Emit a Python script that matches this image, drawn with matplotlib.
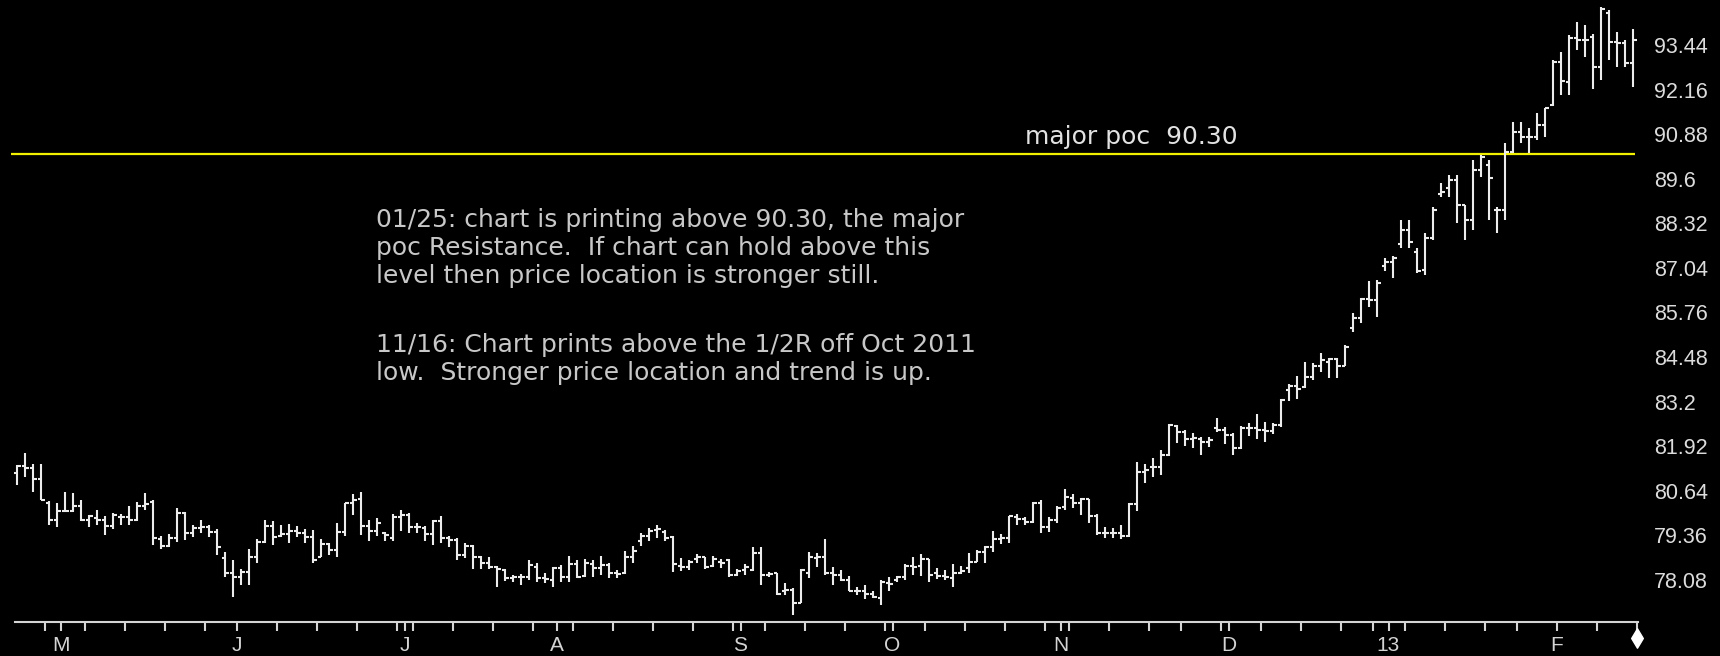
import numpy as np
import matplotlib
matplotlib.use("Agg")
import matplotlib.pyplot as plt
from matplotlib.collections import LineCollection
from matplotlib.path import Path
from matplotlib.transforms import blended_transform_factory, offset_copy

# Daily sessions, oldest first
opens = [81.16, 81.34, 81.29, 80.97, 80.30, 79.80, 80.07, 80.07, 80.21, 79.80,
         79.85, 79.80, 79.63, 79.88, 79.88, 79.80, 80.21, 80.33, 79.25, 79.06,
         79.28, 79.99, 79.44, 79.56, 79.59, 79.47, 78.70, 78.29, 78.16, 78.32,
         78.75, 79.18, 79.63, 79.34, 79.40, 79.50, 79.42, 79.31, 78.75, 79.11,
         78.94, 79.47, 80.28, 80.40, 79.63, 79.50, 79.42, 79.28, 79.88, 79.95,
         79.61, 79.57, 79.40, 79.76, 79.28, 79.23, 78.80, 79.06, 78.73, 78.58,
         78.45, 78.37, 78.13, 78.18, 78.16, 78.45, 78.13, 78.08, 78.42, 78.18,
         78.54, 78.20, 78.54, 78.42, 78.51, 78.27, 78.27, 78.73, 79.21, 79.33,
         79.52, 79.47, 79.31, 78.48, 78.46, 78.67, 78.73, 78.48, 78.61, 78.64,
         78.22, 78.37, 78.37, 78.85, 78.22, 78.27, 77.75, 77.79, 77.43, 78.29,
         78.70, 78.75, 78.29, 78.22, 78.08, 77.77, 77.75, 77.68, 77.55, 77.99,
         78.08, 78.18, 78.48, 78.48, 78.67, 78.29, 78.20, 78.13, 78.29, 78.42,
         78.61, 78.87, 79.02, 79.25, 79.28, 79.90, 79.82, 79.75, 80.28, 79.59,
         79.80, 80.18, 80.42, 80.28, 80.40, 79.92, 79.42, 79.44, 79.44, 79.34,
         80.26, 81.19, 81.31, 81.33, 81.67, 82.50, 82.34, 82.12, 82.12, 82.05,
         82.43, 82.40, 82.24, 81.86, 82.43, 82.43, 82.39, 82.37, 82.53, 83.53,
         83.65, 83.63, 83.90, 84.22, 84.35, 84.42, 84.21, 85.31, 85.59, 86.14,
         86.12, 87.10, 87.22, 87.74, 88.13, 87.50, 86.98, 87.89, 89.15, 89.33,
         89.56, 88.85, 88.41, 89.85, 90.00, 88.70, 88.70, 90.38, 90.95, 90.81,
         90.81, 91.14, 91.72, 92.96, 92.39, 93.63, 93.58, 93.68, 92.82, 94.35,
         93.53, 93.49, 92.91]
highs = [81.38, 81.72, 81.41, 81.41, 80.36, 80.28, 80.62, 80.57, 80.38, 79.95,
         80.09, 79.92, 79.99, 79.98, 80.21, 80.33, 80.57, 80.38, 79.34, 79.40,
         80.16, 80.04, 79.66, 79.80, 79.66, 79.54, 78.89, 78.66, 78.39, 78.96,
         79.25, 79.80, 79.78, 79.66, 79.68, 79.63, 79.54, 79.52, 79.25, 79.13,
         79.71, 80.30, 80.55, 80.62, 79.80, 79.85, 79.47, 79.98, 80.09, 80.00,
         79.73, 79.63, 79.80, 79.92, 79.33, 79.28, 79.15, 79.09, 78.77, 78.73,
         78.48, 78.39, 78.23, 78.25, 78.66, 78.58, 78.27, 78.46, 78.51, 78.77,
         78.66, 78.68, 78.64, 78.77, 78.58, 78.37, 78.90, 79.06, 79.42, 79.57,
         79.66, 79.52, 79.34, 78.70, 78.66, 78.83, 78.75, 78.77, 78.67, 78.67,
         78.39, 78.54, 79.02, 79.02, 78.32, 78.29, 77.99, 77.84, 78.39, 78.89,
         78.85, 79.25, 78.44, 78.37, 78.20, 77.89, 77.94, 77.75, 78.08, 78.16,
         78.20, 78.54, 78.73, 78.83, 78.67, 78.42, 78.37, 78.54, 78.48, 78.85,
         78.94, 79.06, 79.50, 79.40, 79.92, 79.97, 79.88, 80.33, 80.38, 79.90,
         80.20, 80.68, 80.55, 80.42, 80.40, 79.97, 79.59, 79.56, 79.66, 80.28,
         81.48, 81.41, 81.57, 81.81, 82.56, 82.53, 82.39, 82.31, 82.19, 82.19,
         82.72, 82.46, 82.29, 82.50, 82.60, 82.86, 82.62, 82.58, 83.29, 83.71,
         83.94, 84.35, 84.30, 84.60, 84.45, 84.45, 84.83, 85.74, 86.17, 86.65,
         86.68, 87.33, 87.37, 88.41, 88.41, 87.60, 88.03, 88.80, 89.47, 89.70,
         89.70, 88.85, 90.14, 90.28, 90.14, 88.80, 90.62, 91.24, 91.24, 91.05,
         91.48, 91.62, 93.01, 93.25, 93.73, 94.11, 94.01, 93.77, 94.54, 94.44,
         93.82, 93.58, 93.89]
lows = [80.81, 81.05, 80.62, 80.38, 79.66, 79.59, 80.04, 80.04, 79.77, 79.59,
        79.66, 79.37, 79.54, 79.66, 79.66, 79.78, 80.09, 79.09, 78.96, 79.02,
        79.18, 79.23, 79.31, 79.42, 79.32, 78.80, 78.18, 77.60, 77.94, 77.94,
        78.58, 79.13, 79.09, 79.32, 79.15, 79.32, 79.15, 78.58, 78.75, 78.80,
        78.75, 79.33, 79.95, 79.37, 79.21, 79.33, 79.21, 79.21, 79.50, 79.42,
        79.42, 79.21, 79.09, 79.15, 79.04, 78.64, 78.70, 78.39, 78.39, 78.39,
        77.87, 78.06, 78.01, 77.94, 78.08, 78.03, 77.99, 77.89, 78.03, 78.01,
        78.13, 78.16, 78.18, 78.23, 78.13, 78.13, 78.25, 78.58, 79.06, 79.21,
        79.28, 79.21, 78.32, 78.35, 78.37, 78.56, 78.39, 78.44, 78.42, 78.18,
        78.20, 78.22, 78.35, 77.94, 78.16, 77.65, 77.65, 77.08, 77.41, 78.13,
        78.46, 78.22, 77.94, 78.06, 77.75, 77.65, 77.53, 77.55, 77.36, 77.77,
        78.03, 78.08, 78.22, 78.20, 78.03, 78.10, 78.08, 77.89, 78.25, 78.27,
        78.61, 78.58, 78.89, 79.10, 79.15, 79.66, 79.66, 79.73, 79.44, 79.47,
        79.71, 80.09, 80.14, 79.95, 79.73, 79.37, 79.28, 79.30, 79.25, 79.32,
        80.07, 80.87, 81.05, 81.09, 81.64, 82.02, 81.93, 81.86, 81.67, 81.91,
        82.34, 81.98, 81.67, 81.83, 82.20, 82.12, 82.05, 82.27, 82.48, 83.23,
        83.27, 83.58, 83.82, 84.06, 83.87, 83.87, 84.21, 85.21, 85.47, 85.93,
        85.64, 86.96, 86.74, 87.60, 87.60, 86.88, 86.83, 87.84, 89.08, 89.08,
        88.32, 87.84, 88.13, 89.66, 88.41, 88.05, 88.41, 90.33, 90.62, 90.33,
        90.71, 90.81, 91.70, 92.00, 92.00, 93.30, 93.10, 92.19, 92.43, 93.01,
        92.82, 92.82, 92.24]
closes = [81.35, 81.29, 80.97, 80.38, 79.80, 80.07, 80.07, 80.21, 79.80, 79.92,
          79.80, 79.63, 79.95, 79.90, 79.80, 80.21, 80.26, 79.28, 79.06, 79.28,
          79.99, 79.44, 79.56, 79.59, 79.47, 79.04, 78.29, 78.16, 78.32, 78.75,
          79.18, 79.63, 79.32, 79.40, 79.50, 79.42, 79.32, 78.64, 79.11, 78.94,
          79.47, 80.28, 80.38, 79.63, 79.50, 79.73, 79.37, 79.90, 79.95, 79.61,
          79.59, 79.40, 79.76, 79.28, 79.23, 78.80, 79.06, 78.75, 78.58, 78.46,
          78.39, 78.13, 78.16, 78.16, 78.51, 78.13, 78.10, 78.42, 78.18, 78.54,
          78.18, 78.58, 78.42, 78.51, 78.27, 78.25, 78.73, 78.90, 79.33, 79.50,
          79.54, 79.28, 78.54, 78.46, 78.61, 78.73, 78.46, 78.67, 78.58, 78.22,
          78.35, 78.44, 78.85, 78.22, 78.25, 77.68, 77.79, 77.43, 78.37, 78.75,
          78.75, 78.29, 78.22, 78.08, 77.77, 77.75, 77.68, 77.58, 78.03, 77.97,
          78.18, 78.48, 78.44, 78.67, 78.22, 78.20, 78.18, 78.29, 78.35, 78.61,
          78.87, 79.02, 79.25, 79.30, 79.92, 79.82, 79.75, 80.28, 79.59, 79.80,
          80.14, 80.45, 80.28, 80.40, 79.92, 79.44, 79.44, 79.44, 79.34, 80.26,
          81.19, 81.24, 81.33, 81.67, 82.53, 82.34, 82.12, 82.17, 82.05, 82.10,
          82.40, 82.24, 81.86, 82.43, 82.43, 82.39, 82.37, 82.53, 83.25, 83.65,
          83.55, 83.90, 84.22, 84.41, 84.42, 84.21, 84.78, 85.59, 86.14, 86.12,
          86.62, 87.22, 87.33, 88.13, 87.79, 86.95, 87.89, 88.70, 89.23, 89.56,
          88.85, 88.41, 89.85, 90.23, 89.61, 88.70, 90.38, 90.95, 90.81, 90.81,
          91.14, 91.62, 92.96, 92.40, 93.63, 93.58, 93.58, 92.82, 94.46, 93.53,
          93.49, 92.91, 93.58]

# Session index of each week start and month start on the time axis
week_ticks = [4, 9, 14, 19, 24, 33, 38, 43, 48, 50, 55, 60, 65, 70, 75, 80,
              85, 90, 94, 99, 104, 109, 114, 119, 124, 129, 132, 137, 142,
              146, 151, 156, 161, 166, 170, 174, 179, 184, 188, 198, 203]
month_ticks = [6, 28, 49, 68, 91, 110, 131, 152, 172, 193]
month_labels = ["M", "J", "J", "A", "S", "O", "N", "D", "13", "F"]

price_ticks = [93.44, 92.16, 90.88, 89.60, 88.32, 87.04, 85.76, 84.48,
               83.20, 81.92, 80.64, 79.36, 78.08]
price_labels = ["93.44", "92.16", "90.88", "89.6", "88.32", "87.04", "85.76",
                "84.48", "83.2", "81.92", "80.64", "79.36", "78.08"]

poc_level = 90.30
poc_label = "major poc  90.30"

notes_top = ["01/25: chart is printing above 90.30, the major",
             "poc Resistance.  If chart can hold above this",
             "level then price location is stronger still."]
notes_bottom = ["11/16: Chart prints above the 1/2R off Oct 2011",
                "low.  Stronger price location and trend is up."]

# ---------------------------------------------------------------------------
W, H = 1720, 656
BAR_COLOR = "#ececec"
AXIS_COLOR = "#d4d4d4"
TEXT_COLOR = "#c8c8c8"
LABEL_FONT = "Liberation Sans"
NOTE_FONT = "DejaVu Sans"
NOTE_SIZE = 18
TICK_SHIFT = -0.6      # axis ticks sit just left of the session they mark
HALF_TICK = 0.45       # open/close tick length in sessions

fig = plt.figure(figsize=(W / 100, H / 100), dpi=100, facecolor="black")
ax = fig.add_axes([0, 34 / H, 1638 / W, 622 / H])
ax.set_facecolor("black")

n = len(closes)
x = np.arange(n)
o, h, l, c = map(np.asarray, (opens, highs, lows, closes))

segs = []
for xi, oi, hi, li, ci in zip(x, o, h, l, c):
    segs.append([(xi, li), (xi, hi)])
    segs.append([(xi - HALF_TICK, oi), (xi, oi)])
    segs.append([(xi, ci), (xi + HALF_TICK, ci)])
ax.add_collection(LineCollection(segs, colors=BAR_COLOR, linewidths=1.5,
                                 capstyle="butt"))

ax.set_xlim(-2.1625, 202.5875)
ax.set_ylim(76.874, 94.732)

# point of control level
ax.hlines(poc_level, -0.8, n - 0.8, color="#f0f000", lw=1.6, zorder=1)
ax.text(126.0, poc_level + 0.31, poc_label, fontsize=NOTE_SIZE,
        family=NOTE_FONT, color="#e2e2e2", ha="left", va="baseline")

# spines and axis ticks
for side in ("top", "left", "right"):
    ax.spines[side].set_visible(False)
ax.spines["bottom"].set_color(AXIS_COLOR)
ax.spines["bottom"].set_linewidth(1.5)
ax.spines["bottom"].set_bounds(-0.29, 202.59)

tick_pos = np.array(sorted(set(week_ticks + month_ticks)), dtype=float) + TICK_SHIFT
ax.set_xticks(tick_pos)
ax.set_xticklabels([])
ax.tick_params(axis="x", direction="out", length=6.5, width=1.5,
               color=AXIS_COLOR)

for pos, lab in zip(month_ticks, month_labels):
    ax.annotate(lab, xy=(pos + TICK_SHIFT, 0),
                xycoords=("data", "axes fraction"),
                xytext=(0, -17), textcoords="offset points",
                ha="center", va="center", fontsize=15, family=LABEL_FONT,
                color=AXIS_COLOR, annotation_clip=False)

ax.yaxis.tick_right()
ax.set_yticks(price_ticks)
ax.set_yticklabels(price_labels)
ax.tick_params(axis="y", length=0, pad=11.5, labelsize=15.5,
               labelcolor="#dcdcdc")
for t in ax.get_yticklabels():
    t.set_family(LABEL_FONT)

# end-of-data marker below the last tick
diamond = Path([(0, 1), (0.6, 0), (0, -1), (-0.6, 0), (0, 1)],
               [Path.MOVETO, Path.LINETO, Path.LINETO, Path.LINETO,
                Path.CLOSEPOLY])
trans = offset_copy(blended_transform_factory(ax.transData, ax.transAxes),
                    fig=fig, x=0, y=-16, units="dots")
ax.plot([week_ticks[-1] + TICK_SHIFT], [0], marker=diamond, ms=14,
        color="white", mec="white", transform=trans, clip_on=False)

# commentary
def put_lines(lines, x_px, first_baseline_px, step_px):
    for k, line in enumerate(lines):
        fig.text(x_px / W, 1 - (first_baseline_px + k * step_px) / H, line,
                 fontsize=NOTE_SIZE, family=NOTE_FONT, color=TEXT_COLOR,
                 ha="left", va="baseline")

put_lines(notes_top, 376, 227, 28)
put_lines(notes_bottom, 376, 352, 28)

fig.savefig("out.png", dpi=100, facecolor="black")
